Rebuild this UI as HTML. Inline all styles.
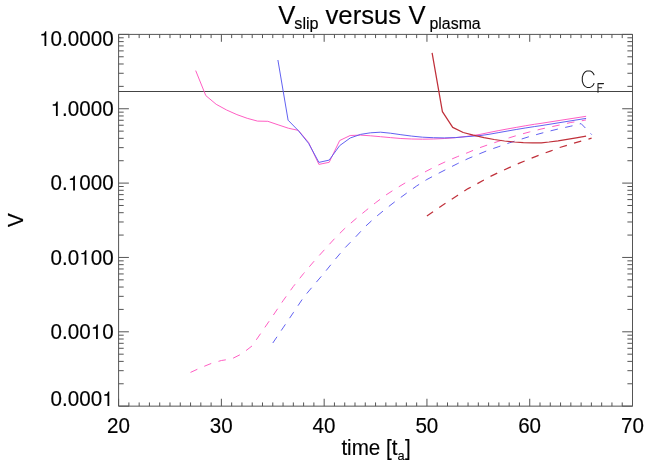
<!DOCTYPE html>
<html><head><meta charset="utf-8"><title>V slip versus V plasma</title>
<style>html,body{margin:0;padding:0;background:#fff;}svg{display:block;will-change:transform;}</style></head>
<body>
<svg width="665" height="475" viewBox="0 0 665 475">
<rect width="665" height="475" fill="#fff"/>
<path d="M118.6,34.4H632.5V406.15H118.6ZM118.60,406.15v-7.4M118.60,34.4v7.4M128.88,406.15v-3.7M128.88,34.4v3.7M139.16,406.15v-3.7M139.16,34.4v3.7M149.43,406.15v-3.7M149.43,34.4v3.7M159.71,406.15v-3.7M159.71,34.4v3.7M169.99,406.15v-3.7M169.99,34.4v3.7M180.27,406.15v-3.7M180.27,34.4v3.7M190.55,406.15v-3.7M190.55,34.4v3.7M200.82,406.15v-3.7M200.82,34.4v3.7M211.10,406.15v-3.7M211.10,34.4v3.7M221.38,406.15v-7.4M221.38,34.4v7.4M231.66,406.15v-3.7M231.66,34.4v3.7M241.94,406.15v-3.7M241.94,34.4v3.7M252.21,406.15v-3.7M252.21,34.4v3.7M262.49,406.15v-3.7M262.49,34.4v3.7M272.77,406.15v-3.7M272.77,34.4v3.7M283.05,406.15v-3.7M283.05,34.4v3.7M293.33,406.15v-3.7M293.33,34.4v3.7M303.60,406.15v-3.7M303.60,34.4v3.7M313.88,406.15v-3.7M313.88,34.4v3.7M324.16,406.15v-7.4M324.16,34.4v7.4M334.44,406.15v-3.7M334.44,34.4v3.7M344.72,406.15v-3.7M344.72,34.4v3.7M354.99,406.15v-3.7M354.99,34.4v3.7M365.27,406.15v-3.7M365.27,34.4v3.7M375.55,406.15v-3.7M375.55,34.4v3.7M385.83,406.15v-3.7M385.83,34.4v3.7M396.11,406.15v-3.7M396.11,34.4v3.7M406.38,406.15v-3.7M406.38,34.4v3.7M416.66,406.15v-3.7M416.66,34.4v3.7M426.94,406.15v-7.4M426.94,34.4v7.4M437.22,406.15v-3.7M437.22,34.4v3.7M447.50,406.15v-3.7M447.50,34.4v3.7M457.77,406.15v-3.7M457.77,34.4v3.7M468.05,406.15v-3.7M468.05,34.4v3.7M478.33,406.15v-3.7M478.33,34.4v3.7M488.61,406.15v-3.7M488.61,34.4v3.7M498.89,406.15v-3.7M498.89,34.4v3.7M509.16,406.15v-3.7M509.16,34.4v3.7M519.44,406.15v-3.7M519.44,34.4v3.7M529.72,406.15v-7.4M529.72,34.4v7.4M540.00,406.15v-3.7M540.00,34.4v3.7M550.28,406.15v-3.7M550.28,34.4v3.7M560.55,406.15v-3.7M560.55,34.4v3.7M570.83,406.15v-3.7M570.83,34.4v3.7M581.11,406.15v-3.7M581.11,34.4v3.7M591.39,406.15v-3.7M591.39,34.4v3.7M601.67,406.15v-3.7M601.67,34.4v3.7M611.94,406.15v-3.7M611.94,34.4v3.7M622.22,406.15v-3.7M622.22,34.4v3.7M632.50,406.15v-7.4M632.50,34.4v7.4M118.6,406.15h10.3M632.5,406.15h-10.3M118.6,383.77h5.1M632.5,383.77h-5.1M118.6,370.68h5.1M632.5,370.68h-5.1M118.6,361.39h5.1M632.5,361.39h-5.1M118.6,354.18h5.1M632.5,354.18h-5.1M118.6,348.29h5.1M632.5,348.29h-5.1M118.6,343.32h5.1M632.5,343.32h-5.1M118.6,339.01h5.1M632.5,339.01h-5.1M118.6,335.20h5.1M632.5,335.20h-5.1M118.6,331.80h10.3M632.5,331.80h-10.3M118.6,309.42h5.1M632.5,309.42h-5.1M118.6,296.33h5.1M632.5,296.33h-5.1M118.6,287.04h5.1M632.5,287.04h-5.1M118.6,279.83h5.1M632.5,279.83h-5.1M118.6,273.94h5.1M632.5,273.94h-5.1M118.6,268.97h5.1M632.5,268.97h-5.1M118.6,264.66h5.1M632.5,264.66h-5.1M118.6,260.85h5.1M632.5,260.85h-5.1M118.6,257.45h10.3M632.5,257.45h-10.3M118.6,235.07h5.1M632.5,235.07h-5.1M118.6,221.98h5.1M632.5,221.98h-5.1M118.6,212.69h5.1M632.5,212.69h-5.1M118.6,205.48h5.1M632.5,205.48h-5.1M118.6,199.59h5.1M632.5,199.59h-5.1M118.6,194.62h5.1M632.5,194.62h-5.1M118.6,190.31h5.1M632.5,190.31h-5.1M118.6,186.50h5.1M632.5,186.50h-5.1M118.6,183.10h10.3M632.5,183.10h-10.3M118.6,160.72h5.1M632.5,160.72h-5.1M118.6,147.63h5.1M632.5,147.63h-5.1M118.6,138.34h5.1M632.5,138.34h-5.1M118.6,131.13h5.1M632.5,131.13h-5.1M118.6,125.24h5.1M632.5,125.24h-5.1M118.6,120.27h5.1M632.5,120.27h-5.1M118.6,115.96h5.1M632.5,115.96h-5.1M118.6,112.15h5.1M632.5,112.15h-5.1M118.6,108.75h10.3M632.5,108.75h-10.3M118.6,86.37h5.1M632.5,86.37h-5.1M118.6,73.28h5.1M632.5,73.28h-5.1M118.6,63.99h5.1M632.5,63.99h-5.1M118.6,56.78h5.1M632.5,56.78h-5.1M118.6,50.89h5.1M632.5,50.89h-5.1M118.6,45.92h5.1M632.5,45.92h-5.1M118.6,41.61h5.1M632.5,41.61h-5.1M118.6,37.80h5.1M632.5,37.80h-5.1M118.6,34.40h10.3M632.5,34.40h-10.3" fill="none" stroke="#555" stroke-width="1"/>
<path d="M118.6,91.5H632.5" stroke="#444" stroke-width="1" fill="none"/>
<path d="M190.5,372.4L200.8,367.7L211.1,363.5L221.4,360.5L231.7,358.9L241.9,353.8L252.2,345.8L262.5,330.8L272.8,315.9L283.0,300.8L293.3,286.5L303.6,273.5L313.9,261.4L324.2,250.0L334.4,238.8L344.7,228.5L355.0,219.5L365.3,211.0L375.5,202.8L385.8,195.1L396.1,188.4L406.4,182.2L416.7,176.6L426.9,170.9L437.2,165.6L447.5,160.8L457.8,156.5L468.1,152.5L478.3,148.2L488.6,144.6L498.9,141.2L509.2,137.8L519.4,134.7L529.7,131.9L540.0,129.3L550.3,127.0L560.6,124.8L570.8,122.5L581.1,120.9L586.0,119.9" fill="none" stroke="#ff55c0" stroke-width="0.95" stroke-linejoin="round" stroke-dasharray="7.53 7.53"/>
<path d="M272.8,343.0L283.0,327.9L293.3,312.7L303.6,297.3L313.9,285.0L324.2,273.0L334.4,260.3L344.7,248.1L355.0,237.6L365.3,226.5L375.5,217.2L385.8,208.8L396.1,200.8L406.4,193.3L416.7,185.9L426.9,179.5L437.2,174.0L447.5,168.7L457.8,163.5L468.1,158.6L478.3,154.3L488.6,150.1L498.9,146.6L509.2,142.9L519.4,139.7L529.7,136.5L540.0,133.6L550.3,130.9L560.6,128.4L570.8,126.2L581.1,123.6L591.7,134.6" fill="none" stroke="#5858f0" stroke-width="0.95" stroke-linejoin="round" stroke-dasharray="7.5 7.5"/>
<path d="M426.9,216.0L437.2,208.8L447.5,202.0L457.8,195.2L468.1,188.6L478.3,183.1L488.6,177.3L498.9,172.3L509.2,167.6L519.4,163.1L529.7,158.9L540.0,154.8L550.3,151.1L560.6,147.2L570.8,144.1L581.1,141.1L591.6,138.2" fill="none" stroke="#c0303a" stroke-width="1.2" stroke-linejoin="round" stroke-dasharray="7.5 7.5"/>
<path d="M195.7,70.6L205.8,95.6L216.2,104.3L226.6,110.0L236.9,114.6L247.2,118.3L257.5,121.1L267.8,121.3L278.1,124.8L288.3,128.2L298.4,130.4L308.6,142.5L318.9,164.4L329.2,162.3L339.7,140.5L350.2,135.5L360.5,135.1L370.5,135.8L380.5,136.7L390.4,137.6L400.9,138.5L411.7,139.0L422.6,139.2L433.4,139.0L444.3,138.5L455.2,137.7L466.0,136.5L480.0,134.4L489.0,132.5L498.1,130.7L507.1,129.0L516.2,127.4L525.2,125.8L534.3,124.3L540.0,123.5L563.0,119.9L586.1,116.3" fill="none" stroke="#ff55c0" stroke-width="0.95" stroke-linejoin="round"/>
<path d="M277.9,60.0L288.1,120.2L298.3,130.6L308.6,143.4L318.9,162.4L329.2,160.1L339.7,145.6L350.2,138.0L360.5,134.4L370.5,132.8L380.5,132.2L390.4,133.2L400.9,134.7L411.7,136.1L422.6,137.2L433.4,137.7L444.3,137.9L455.2,137.6L466.0,136.7L480.0,135.6L489.0,134.3L498.1,132.7L507.1,131.1L516.2,129.5L525.2,128.0L534.3,126.6L540.0,125.8L563.0,122.1L586.1,118.4" fill="none" stroke="#5858f0" stroke-width="0.95" stroke-linejoin="round"/>
<path d="M432.1,52.8L442.4,111.7L452.7,127.4L463.2,132.5L473.3,135.2L484.0,137.6L494.1,139.5L504.5,141.0L514.3,142.0L523.3,142.6L532.4,142.8L541.4,142.8L549.0,142.0L558.1,140.8L567.1,139.4L576.2,137.9L586.1,136.2" fill="none" stroke="#c0303a" stroke-width="1.25" stroke-linejoin="round"/>
<path d="M594.00,74.83L593.22,73.26L591.66,71.69L590.10,70.90L586.98,70.90L585.42,71.69L583.86,73.26L583.08,74.83L582.30,77.19L582.30,81.11L583.08,83.47L583.86,85.04L585.42,86.61L586.98,87.40L590.10,87.40L591.66,86.61L593.22,85.04L594.00,83.47" fill="none" stroke="#1a1a1a" stroke-width="1.05" stroke-linejoin="round" stroke-linecap="round"/>
<path d="M598.0,92.2V83.6H603.5M598.0,87.8H601.7" fill="none" stroke="#1a1a1a" stroke-width="1.05" stroke-linecap="round" stroke-linejoin="round"/>
<text transform="translate(278.20,23.80) scale(1,1.03)" font-size="25.7" text-anchor="start" font-family="Liberation Sans, sans-serif" fill="#000" stroke="#000" stroke-width="0.15" >V</text>
<text transform="translate(294.30,29.00) scale(1,1.03)" font-size="16.2" text-anchor="start" font-family="Liberation Sans, sans-serif" fill="#000" stroke="#000" stroke-width="0.15" >slip</text>
<text transform="translate(325.50,23.80) scale(1,1.03)" font-size="25.7" text-anchor="start" font-family="Liberation Sans, sans-serif" fill="#000" stroke="#000" stroke-width="0.15" >versus</text>
<text transform="translate(408.50,23.80) scale(1,1.03)" font-size="25.7" text-anchor="start" font-family="Liberation Sans, sans-serif" fill="#000" stroke="#000" stroke-width="0.15" >V</text>
<text transform="translate(429.50,29.00) scale(1,1.03)" font-size="15.9" text-anchor="start" font-family="Liberation Sans, sans-serif" fill="#000" stroke="#000" stroke-width="0.15" >plasma</text>
<path d="M44.49,35.50L44.49,45.90L46.30,45.90L46.30,31.29L45.10,31.29C44.47,33.54 44.05,33.85 41.25,34.20L41.25,35.50Z" fill="#000"/>
<text transform="translate(0,45.90) scale(1,1.03)" x="50.61 62.06 67.79 79.24 90.69 102.15" y="0" font-size="20.6" font-family="Liberation Sans, sans-serif" fill="#000" stroke="#000" stroke-width="0.15">0.0000</text>
<path d="M55.94,105.65L55.94,116.05L57.75,116.05L57.75,101.44L56.56,101.44C55.92,103.69 55.51,104.00 52.71,104.35L52.71,105.65Z" fill="#000"/>
<text transform="translate(0,116.05) scale(1,1.03)" x="62.06 67.79 79.24 90.69 102.15" y="0" font-size="20.6" font-family="Liberation Sans, sans-serif" fill="#000" stroke="#000" stroke-width="0.15">.0000</text>
<path d="M73.12,180.00L73.12,190.40L74.93,190.40L74.93,175.79L73.74,175.79C73.10,178.04 72.69,178.35 69.89,178.70L69.89,180.00Z" fill="#000"/>
<text transform="translate(0,190.40) scale(1,1.03)" x="50.61 62.06 79.24 90.69 102.15" y="0" font-size="20.6" font-family="Liberation Sans, sans-serif" fill="#000" stroke="#000" stroke-width="0.15">0.000</text>
<path d="M84.57,254.35L84.57,264.75L86.39,264.75L86.39,250.14L85.19,250.14C84.55,252.39 84.14,252.70 81.34,253.05L81.34,254.35Z" fill="#000"/>
<text transform="translate(0,264.75) scale(1,1.03)" x="50.61 62.06 67.79 90.69 102.15" y="0" font-size="20.6" font-family="Liberation Sans, sans-serif" fill="#000" stroke="#000" stroke-width="0.15">0.000</text>
<path d="M96.03,328.70L96.03,339.10L97.84,339.10L97.84,324.49L96.65,324.49C96.01,326.74 95.60,327.05 92.79,327.40L92.79,328.70Z" fill="#000"/>
<text transform="translate(0,339.10) scale(1,1.03)" x="50.61 62.06 67.79 79.24 102.15" y="0" font-size="20.6" font-family="Liberation Sans, sans-serif" fill="#000" stroke="#000" stroke-width="0.15">0.000</text>
<path d="M107.48,395.70L107.48,406.10L109.29,406.10L109.29,391.49L108.10,391.49C107.46,393.74 107.05,394.05 104.25,394.40L104.25,395.70Z" fill="#000"/>
<text transform="translate(0,406.10) scale(1,1.03)" x="50.61 62.06 67.79 79.24 90.69" y="0" font-size="20.6" font-family="Liberation Sans, sans-serif" fill="#000" stroke="#000" stroke-width="0.15">0.000</text>
<text transform="translate(118.50,432.90) scale(1,1.03)" font-size="20.6" text-anchor="middle" font-family="Liberation Sans, sans-serif" fill="#000" stroke="#000" stroke-width="0.15" >20</text>
<text transform="translate(221.28,432.90) scale(1,1.03)" font-size="20.6" text-anchor="middle" font-family="Liberation Sans, sans-serif" fill="#000" stroke="#000" stroke-width="0.15" >30</text>
<text transform="translate(324.06,432.90) scale(1,1.03)" font-size="20.6" text-anchor="middle" font-family="Liberation Sans, sans-serif" fill="#000" stroke="#000" stroke-width="0.15" >40</text>
<text transform="translate(426.84,432.90) scale(1,1.03)" font-size="20.6" text-anchor="middle" font-family="Liberation Sans, sans-serif" fill="#000" stroke="#000" stroke-width="0.15" >50</text>
<text transform="translate(529.62,432.90) scale(1,1.03)" font-size="20.6" text-anchor="middle" font-family="Liberation Sans, sans-serif" fill="#000" stroke="#000" stroke-width="0.15" >60</text>
<text transform="translate(632.40,432.90) scale(1,1.03)" font-size="20.6" text-anchor="middle" font-family="Liberation Sans, sans-serif" fill="#000" stroke="#000" stroke-width="0.15" >70</text>
<text transform="translate(341.40,454.50) scale(1,1.03)" font-size="20.6" text-anchor="start" font-family="Liberation Sans, sans-serif" fill="#000" stroke="#000" stroke-width="0.15" >time [t</text>
<text transform="translate(397.60,459.50) scale(1,1.03)" font-size="12.8" text-anchor="start" font-family="Liberation Sans, sans-serif" fill="#000" stroke="#000" stroke-width="0.15" >a</text>
<text transform="translate(404.90,454.50) scale(1,1.03)" font-size="20.6" text-anchor="start" font-family="Liberation Sans, sans-serif" fill="#000" stroke="#000" stroke-width="0.15" >]</text>
<text transform="translate(23.0,220.2) rotate(-90) scale(1,1.03)" font-size="20.6" text-anchor="middle" font-family="Liberation Sans, sans-serif" fill="#000" stroke="#000" stroke-width="0.15">V</text>
</svg>
</body></html>
